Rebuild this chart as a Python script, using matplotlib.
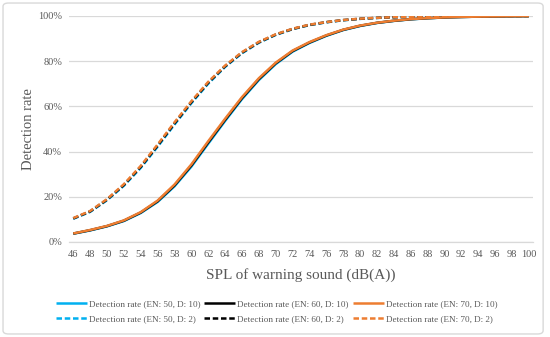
"""Detection rate vs SPL of warning sound, Excel-style line chart."""

import matplotlib
matplotlib.use("Agg")
import matplotlib.pyplot as plt
from matplotlib.patches import FancyBboxPatch
from matplotlib.ticker import PercentFormatter

plt.rcParams["font.family"] = ["Liberation Serif", "DejaVu Serif"]

spl = list(range(46, 101, 2))

# D: 10 (solid)
rate_en50_d10 = [3.65, 5.1, 6.9, 9.25, 12.8, 17.7, 24.6, 33.3, 43.45, 53.5, 63.15, 71.6, 78.65,
                 84.15, 88.0, 91.15, 93.7, 95.5, 96.85, 97.75, 98.45, 98.92, 99.28, 99.49,
                 99.64, 99.75, 99.82, 99.87]
rate_en60_d10 = [3.7, 5.2, 7.0, 9.4, 13.0, 18.0, 25.0, 33.8, 44.0, 54.0, 63.6, 72.0, 79.0,
                 84.4, 88.2, 91.3, 93.8, 95.6, 96.9, 97.8, 98.5, 98.95, 99.3, 99.5, 99.65,
                 99.76, 99.83, 99.88]
rate_en70_d10 = [3.75, 5.3, 7.1, 9.55, 13.2, 18.3, 25.4, 34.3, 44.55, 54.5, 64.05, 72.4, 79.3,
                 84.65, 88.4, 91.45, 93.9, 95.7, 96.95, 97.85, 98.55, 98.98, 99.32, 99.51,
                 99.66, 99.77, 99.84, 99.89]

# D: 2 (dashed)
rate_en50_d2 = [10.25, 13.3, 18.45, 24.85, 32.75, 42.1, 51.9, 61.35, 70.0, 77.4, 83.45, 88.1,
                91.55, 94.1, 95.9, 97.15, 98.05, 98.65, 99.08, 99.38, 99.59, 99.71, 99.8,
                99.86, 99.9, 99.93, 99.95, 99.96]
rate_en60_d2 = [10.4, 13.5, 18.7, 25.2, 33.2, 42.6, 52.4, 61.8, 70.4, 77.7, 83.7, 88.3, 91.7,
                94.2, 96.0, 97.2, 98.1, 98.7, 99.1, 99.4, 99.6, 99.72, 99.81, 99.87, 99.91,
                99.94, 99.96, 99.97]
rate_en70_d2 = [10.55, 13.7, 18.95, 25.55, 33.65, 43.1, 52.9, 62.25, 70.8, 78.0, 83.95, 88.5,
                91.85, 94.3, 96.1, 97.25, 98.15, 98.75, 99.12, 99.42, 99.61, 99.73, 99.82,
                99.88, 99.92, 99.95, 99.97, 99.98]

BLUE = "#00B0F0"
BLACK = "#000000"
ORANGE = "#ED7D31"
GRID = "#D9D9D9"
TEXT = "#595959"

fig = plt.figure(figsize=(5.5, 3.37), dpi=100)
fig.patches.append(FancyBboxPatch((0.0055, 0.009), 0.982, 0.982,
                                  boxstyle="round,pad=0,rounding_size=0.01",
                                  transform=fig.transFigure, fill=False,
                                  edgecolor=GRID, linewidth=1.0))
ax = fig.add_axes([0.1255, 0.282, 0.8436, 0.671])

dash = (0, (2.2, 1.1))
lw = 1.8
series = [
    (rate_en50_d10, BLUE, "-", "Detection rate (EN: 50, D: 10)"),
    (rate_en50_d2, BLUE, dash, "Detection rate (EN: 50, D: 2)"),
    (rate_en60_d10, BLACK, "-", "Detection rate (EN: 60, D: 10)"),
    (rate_en60_d2, BLACK, dash, "Detection rate (EN: 60, D: 2)"),
    (rate_en70_d10, ORANGE, "-", "Detection rate (EN: 70, D: 10)"),
    (rate_en70_d2, ORANGE, dash, "Detection rate (EN: 70, D: 2)"),
]
handles = []
for vals, color, ls, label in series:
    h, = ax.plot(spl, vals, color=color, linestyle=ls, linewidth=lw, label=label,
                 solid_capstyle="butt", dash_capstyle="butt")
    handles.append(h)

# categories are 1 dB wide, so half a category of padding on each side
ax.set_xlim(45.5, 100.5)
ax.set_ylim(0, 100)
ax.set_xticks(spl)
ax.set_yticks(range(0, 101, 20))
ax.yaxis.set_major_formatter(PercentFormatter(decimals=0))
ax.grid(axis="y", color=GRID, linewidth=0.9)
ax.set_axisbelow(True)
for side in ["top", "right", "left"]:
    ax.spines[side].set_visible(False)
ax.spines["bottom"].set_color(GRID)
ax.spines["bottom"].set_linewidth(0.9)
ax.tick_params(length=0, labelsize=7.5, colors=TEXT)
ax.tick_params(axis="x", pad=6)
ax.tick_params(axis="y", pad=5)

ax.set_xlabel("SPL of warning sound (dB(A))", fontsize=11, color=TEXT, labelpad=6)
ax.set_ylabel("Detection rate", fontsize=10.5, color=TEXT, labelpad=2)

fig.legend(handles=handles, ncol=3, loc="center", bbox_to_anchor=(0.503, 0.076),
           frameon=False, fontsize=6.6, labelcolor=TEXT, handlelength=3.4,
           handletextpad=0.22, columnspacing=0.4, labelspacing=0.7)

fig.savefig("out.png", dpi=100)
